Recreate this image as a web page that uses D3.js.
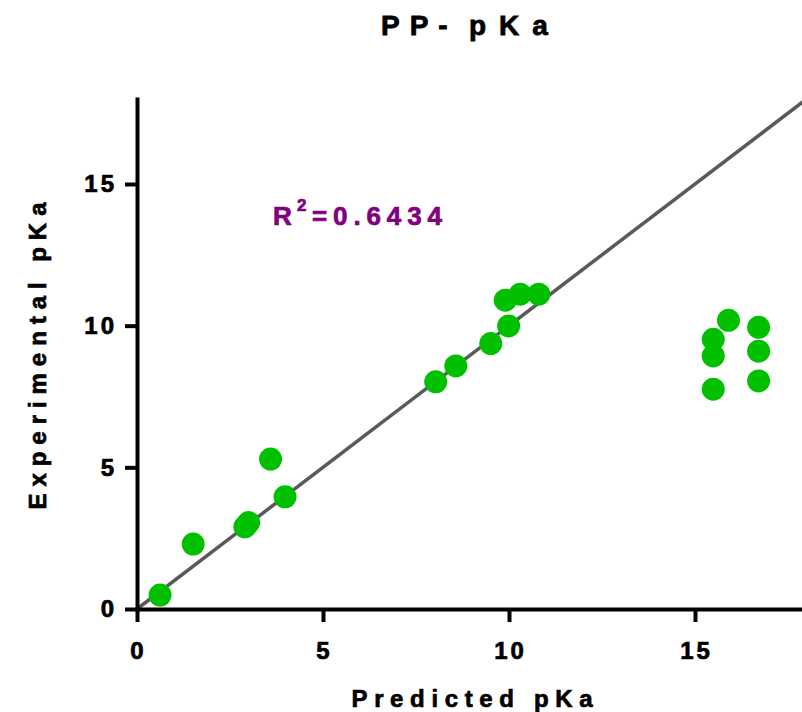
<!DOCTYPE html>
<html>
<head>
<meta charset="utf-8">
<script src="https://cdn.jsdelivr.net/npm/d3@7"></script>
<style>
  body { margin: 0; background: #fff; }
  text { font-family: "Liberation Sans", Arial, sans-serif; font-weight: bold; }
</style>
</head>
<body>
<div id="chart"></div>
<script>
// predicted vs experimental pKa
const predicted    = [0.62, 1.51, 2.9, 3.0, 3.59, 3.98, 8.03, 8.57, 9.51, 9.99, 9.9, 10.3, 10.8, 15.9, 15.49, 15.49, 15.49, 16.71, 16.71, 16.71];
const experimental = [0.49, 2.29, 2.9, 3.05, 5.29, 3.96, 8.02, 8.58, 9.37, 9.99, 10.9, 11.11, 11.11, 10.19, 9.52, 8.93, 7.76, 9.94, 9.1, 8.05];
const tickValues = [0, 5, 10, 15];
const r2Text = "0.6434";

const width = 802
    , height = 712
    ;

const x = d3.scaleLinear().domain([0, 18]).range([137, 806.6]);
const y = d3.scaleLinear().domain([0, 18]).range([609, 99]);

const svg = d3.select("#chart")
  .append("svg")
  .attr("width", width)
  .attr("height", height);

// identity line y = x
svg.append("line")
  .attr("x1", x(0))
  .attr("y1", y(0))
  .attr("x2", x(18))
  .attr("y2", y(18))
  .attr("stroke", "#595959")
  .attr("stroke-width", 3.5);

const xAxis = svg.append("g")
  .attr("transform", `translate(0,${y(0)})`)
  .call(d3.axisBottom(x).tickValues(tickValues).tickSize(13).tickPadding(20).tickSizeOuter(0));

const yAxis = svg.append("g")
  .attr("transform", `translate(${x(0)},0)`)
  .call(d3.axisLeft(y).tickValues(tickValues).tickSize(12).tickPadding(8).tickSizeOuter(0));

[xAxis, yAxis].forEach(g => {
  g.attr("font-family", null).attr("font-size", null);
  g.select(".domain").attr("stroke", "#000").attr("stroke-width", 4).attr("stroke-linecap", "square");
  g.selectAll(".tick line").attr("stroke", "#000").attr("stroke-width", 4);
  g.selectAll(".tick text")
    .attr("fill", "#000")
    .attr("stroke", "#000")
    .attr("stroke-width", 0.7)
    .style("font-size", "24px")
    .style("letter-spacing", "3px");
});
xAxis.selectAll(".tick text").attr("dx", "1px");

// points
svg.append("g")
  .selectAll("circle")
  .data(predicted.map((p, i) => [p, experimental[i]]))
  .join("circle")
  .attr("cx", d => x(d[0]))
  .attr("cy", d => y(d[1]))
  .attr("r", 11.5)
  .attr("fill", "#00c000");

// title, in two pieces so the gap after the dash stays small
const title = svg.append("text")
  .attr("y", 35)
  .attr("stroke", "#000")
  .attr("stroke-width", 0.8)
  .style("font-size", "28px");
title.append("tspan").attr("x", 381).style("letter-spacing", "10px").text("PP-");
title.append("tspan").attr("x", 469).style("letter-spacing", "13px").text("pKa");

// axis titles
svg.append("text")
  .attr("x", 472)
  .attr("y", 707)
  .attr("text-anchor", "middle")
  .attr("textLength", 241)
  .attr("lengthAdjust", "spacing")
  .attr("stroke", "#000")
  .attr("stroke-width", 0.7)
  .style("font-size", "24px")
  .text("Predicted pKa");

svg.append("text")
  .attr("transform", "translate(46,356) rotate(-90)")
  .attr("text-anchor", "middle")
  .attr("textLength", 307)
  .attr("lengthAdjust", "spacing")
  .attr("stroke", "#000")
  .attr("stroke-width", 0.7)
  .style("font-size", "24px")
  .text("Experimental pKa");

// R squared
const r2 = svg.append("text")
  .attr("y", 225)
  .attr("fill", "#800080")
  .attr("stroke", "#800080")
  .attr("stroke-width", 0.7)
  .style("font-size", "26px");
r2.append("tspan").attr("x", 273).text("R");
r2.append("tspan").attr("x", 297).attr("y", 211).style("font-size", "17px").text("2");
r2.append("tspan").attr("x", 312).attr("y", 225)
  .attr("textLength", 130)
  .attr("lengthAdjust", "spacing")
  .text("=" + r2Text);
</script>
</body>
</html>
